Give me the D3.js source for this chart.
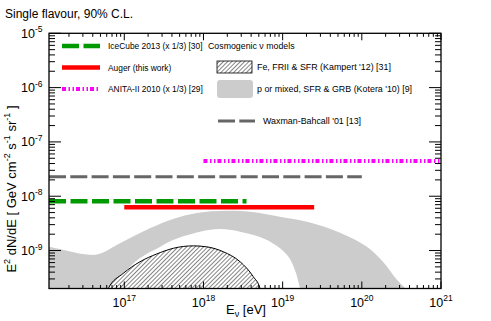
<!DOCTYPE html>
<html lang="en">
<head>
<meta charset="UTF-8">
<title>Neutrino flux limits</title>
<script src="https://cdn.jsdelivr.net/npm/d3@7"></script>
<style>
  body { margin: 0; background: #fff; }
  svg text { font-family: "Liberation Sans", Arial, Helvetica, sans-serif; fill: #000; }
</style>
</head>
<body>
<script>
// energies in eV, fluxes E^2 dN/dE in GeV cm^-2 s^-1 sr^-1
var xDomain = [1.12e16, 1e21];
var yDomain = [2e-10, 1e-5];
var xLabelExp = [17, 18, 19, 20, 21];
var yLabelExp = [-5, -6, -7, -8, -9];

// horizontal limits
var limitNames = ["IceCube 2013 (x 1/3) [30]", "Auger (this work)", "ANITA-II 2010 (x 1/3) [29]", "Waxman-Bahcall '01 [13]"];
var limitEmin = [1.12e16, 1e17, 1e18, 1.12e16];
var limitEmax = [3.5e18, 2.5e19, 1e21, 1e20];
var limitFlux = [8.1e-9, 6.3e-9, 4.45e-8, 2.29e-8];

// cosmogenic models
var modelNames = ["Cosmogenic \u03bd models", "Fe, FRII & SFR (Kampert '12) [31]", "p or mixed, SFR & GRB (Kotera '10) [9]"];

var koteraUpper = [
  [1e16, 1.22e-9], [1.54e16, 1.07e-9], [3.19e16, 8.5e-10], [4.66e16, 8.5e-10],
  [8.83e16, 1.36e-9], [2.11e17, 2.56e-9], [4.12e17, 3.8e-9], [8.28e17, 4.91e-9],
  [1.98e18, 5.41e-9], [4.23e18, 5.12e-9], [9.27e18, 4.19e-9], [2.03e19, 3.39e-9],
  [5.31e19, 2.13e-9], [1.16e20, 1.17e-9], [1.85e20, 6.2e-10], [2.79e20, 2.86e-10],
  [3.52e20, 2.0e-10], [3.98e20, 1.4e-10]
];
var koteraLower = [
  [1e16, 1.4e-10], [5.9e16, 1.4e-10], [6.22e16, 2.0e-10], [9.64e16, 3.8e-10],
  [1.58e17, 7.28e-10], [2.82e17, 1.16e-9], [4.12e17, 1.56e-9], [9.04e17, 2.22e-9],
  [1.62e18, 2.49e-9], [2.9e18, 2.22e-9], [6.35e18, 1.56e-9], [1.14e19, 8.26e-10],
  [1.43e19, 4.38e-10], [1.66e19, 2.0e-10], [1.78e19, 1.4e-10]
];
var kampert = [
  [5.9e16, 1.4e-10], [6.28e16, 2.0e-10], [9.71e16, 3.8e-10], [1.58e17, 6.22e-10],
  [2.56e17, 8.63e-10], [4.16e17, 1.1e-9], [7.45e17, 1.22e-9], [1.1e18, 1.17e-9],
  [1.78e18, 9.5e-10], [2.9e18, 6.22e-10], [4.26e18, 3.3e-10], [5.18e18, 2.0e-10],
  [5.5e18, 1.4e-10]
];

drawChart();

function drawChart() {
  var W = 491, H = 321;
  var left = 49, right = 441, top = 33.3, bottom = 288.5;

  var limitColors = ["#009900", "#ff0000", "#ff00ff", "#666666"];
  var limitWidths = [4.5, 4.5, 4, 3];
  var limitDash = ["17,4.5", null, "4,2.5,1.5,2.5,1.5,2", "17,4.3"];

  var svg = d3.select("body").append("svg")
    .attr("width", W).attr("height", H);

  var defs = svg.append("defs");
  defs.append("clipPath").attr("id", "plotclip")
    .append("rect").attr("x", left).attr("y", top)
    .attr("width", right - left).attr("height", bottom - top);

  var hatch = defs.append("pattern").attr("id", "hatch")
    .attr("patternUnits", "userSpaceOnUse")
    .attr("width", 3).attr("height", 3)
    .attr("patternTransform", "rotate(45)");
  hatch.append("rect").attr("width", 3).attr("height", 3).attr("fill", "#fff");
  hatch.append("line").attr("x1", 0.5).attr("y1", 0).attr("x2", 0.5).attr("y2", 3)
    .attr("stroke", "#333").attr("stroke-width", 0.6);

  var x = d3.scaleLog().domain(xDomain).range([left, right]);
  var y = d3.scaleLog().domain(yDomain).range([bottom, top]);

  var plot = svg.append("g").attr("clip-path", "url(#plotclip)");

  // grey band (Kotera)
  var smooth = d3.line()
    .x(function (d) { return x(d[0]); })
    .y(function (d) { return y(d[1]); })
    .curve(d3.curveCatmullRom.alpha(0.5));
  var lowerRev = koteraLower.slice().reverse();
  plot.append("path")
    .attr("d", smooth(koteraUpper) + "L" + smooth(lowerRev).slice(1) + "Z")
    .attr("fill", "#cccccc").attr("stroke", "none");

  // hatched Kampert model
  var mono = d3.line()
    .x(function (d) { return x(d[0]); })
    .y(function (d) { return y(d[1]); })
    .curve(d3.curveMonotoneX);
  plot.append("path")
    .attr("d", mono(kampert) + "Z")
    .attr("fill", "url(#hatch)").attr("stroke", "none");
  plot.append("path")
    .attr("d", mono(kampert))
    .attr("fill", "none").attr("stroke", "#000").attr("stroke-width", 1);

  // limits
  limitFlux.forEach(function (f, i) {
    plot.append("line")
      .attr("x1", x(limitEmin[i])).attr("x2", x(limitEmax[i]))
      .attr("y1", y(f)).attr("y2", y(f))
      .attr("stroke", limitColors[i])
      .attr("stroke-width", limitWidths[i])
      .attr("stroke-dasharray", limitDash[i]);
  });

  // frame + ticks
  svg.append("rect")
    .attr("x", left).attr("y", top)
    .attr("width", right - left).attr("height", bottom - top)
    .attr("fill", "none").attr("stroke", "#000").attr("stroke-width", 1.3);

  function logTicks(domain) {
    var out = [];
    var e0 = Math.floor(Math.log10(domain[0])), e1 = Math.ceil(Math.log10(domain[1]));
    for (var e = e0; e <= e1; e++) {
      for (var m = 1; m <= 9; m++) {
        var v = m * Math.pow(10, e);
        if (v >= domain[0] * 0.999 && v <= domain[1] * 1.001) out.push({ v: v, major: m === 1 });
      }
    }
    return out;
  }

  var ticks = svg.append("g").attr("stroke", "#000").attr("stroke-width", 1);
  logTicks(xDomain).forEach(function (t) {
    var len = t.major ? 7 : 3.5, px = x(t.v);
    ticks.append("line").attr("x1", px).attr("x2", px).attr("y1", bottom).attr("y2", bottom - len);
    ticks.append("line").attr("x1", px).attr("x2", px).attr("y1", top).attr("y2", top + len);
  });
  logTicks(yDomain).forEach(function (t) {
    var len = t.major ? 12 : 6, py = y(t.v);
    ticks.append("line").attr("x1", left).attr("x2", left + len).attr("y1", py).attr("y2", py);
    ticks.append("line").attr("x1", right).attr("x2", right - len).attr("y1", py).attr("y2", py);
  });

  // tick labels
  xLabelExp.forEach(function (e) {
    var t = svg.append("text")
      .attr("x", x(Math.pow(10, e))).attr("y", 307)
      .attr("text-anchor", "middle").attr("font-size", 12.5);
    t.append("tspan").text("10");
    t.append("tspan").attr("dy", -6).attr("font-size", 8.5).text(e);
  });
  yLabelExp.forEach(function (e) {
    var t = svg.append("text")
      .attr("x", 42.5).attr("y", y(Math.pow(10, e)) + 4.5)
      .attr("text-anchor", "end").attr("font-size", 12.5);
    t.append("tspan").text("10");
    t.append("tspan").attr("dy", -5.5).attr("font-size", 8.5).text(e);
  });

  // axis titles
  var xt = svg.append("text")
    .attr("x", 246).attr("y", 314)
    .attr("text-anchor", "middle").attr("font-size", 13);
  xt.append("tspan").text("E");
  xt.append("tspan").attr("dy", 3).attr("font-size", 9).text("\u03bd");
  xt.append("tspan").attr("dy", -3).text(" [eV]");

  var yt = svg.append("text")
    .attr("transform", "translate(15.5,189) rotate(-90)")
    .attr("text-anchor", "middle").attr("font-size", 13);
  var parts = [["E", 0], ["2", 1], [" dN/dE  [ GeV cm", 0], ["-2", 1], [" s", 0], ["-1", 1], [" sr", 0], ["-1", 1], [" ]", 0]];
  var prevSup = 0;
  parts.forEach(function (p) {
    var ts = yt.append("tspan").text(p[0]);
    if (p[1] && !prevSup) ts.attr("dy", -5.5).attr("font-size", 9);
    if (!p[1] && prevSup) ts.attr("dy", 5.5);
    prevSup = p[1];
  });

  // title
  svg.append("text").attr("x", 5).attr("y", 18)
    .attr("font-size", 12).text("Single flavour, 90% C.L.");

  // legend: limits
  var legY = [46, 67.5, 89];
  var leg = svg.append("g");
  [0, 1, 2].forEach(function (i) {
    leg.append("line")
      .attr("x1", 62).attr("x2", i === 2 ? 98 : 100)
      .attr("y1", legY[i]).attr("y2", legY[i])
      .attr("stroke", limitColors[i])
      .attr("stroke-width", limitWidths[i])
      .attr("stroke-dasharray", limitDash[i]);
    leg.append("text").attr("x", 108).attr("y", legY[i] + 3.2)
      .attr("font-size", 8.4).text(limitNames[i]);
  });

  // legend: models
  leg.append("text").attr("x", 208).attr("y", 49.3)
    .attr("font-size", 8.8).text(modelNames[0]);
  leg.append("rect").attr("x", 217).attr("y", 61).attr("width", 35).attr("height", 12)
    .attr("fill", "url(#hatch)").attr("stroke", "#000").attr("stroke-width", 0.8);
  leg.append("text").attr("x", 257).attr("y", 70.3)
    .attr("font-size", 8.9).text(modelNames[1]);
  leg.append("rect").attr("x", 217).attr("y", 80).attr("width", 36).attr("height", 18)
    .attr("rx", 3).attr("fill", "#cccccc");
  leg.append("text").attr("x", 257).attr("y", 92.3)
    .attr("font-size", 8.9).text(modelNames[2]);
  leg.append("line")
    .attr("x1", 218).attr("x2", 255).attr("y1", 121).attr("y2", 121)
    .attr("stroke", limitColors[3]).attr("stroke-width", limitWidths[3])
    .attr("stroke-dasharray", limitDash[3]);
  leg.append("text").attr("x", 263).attr("y", 124.3)
    .attr("font-size", 8.9).text(limitNames[3]);
}
</script>
</body>
</html>
